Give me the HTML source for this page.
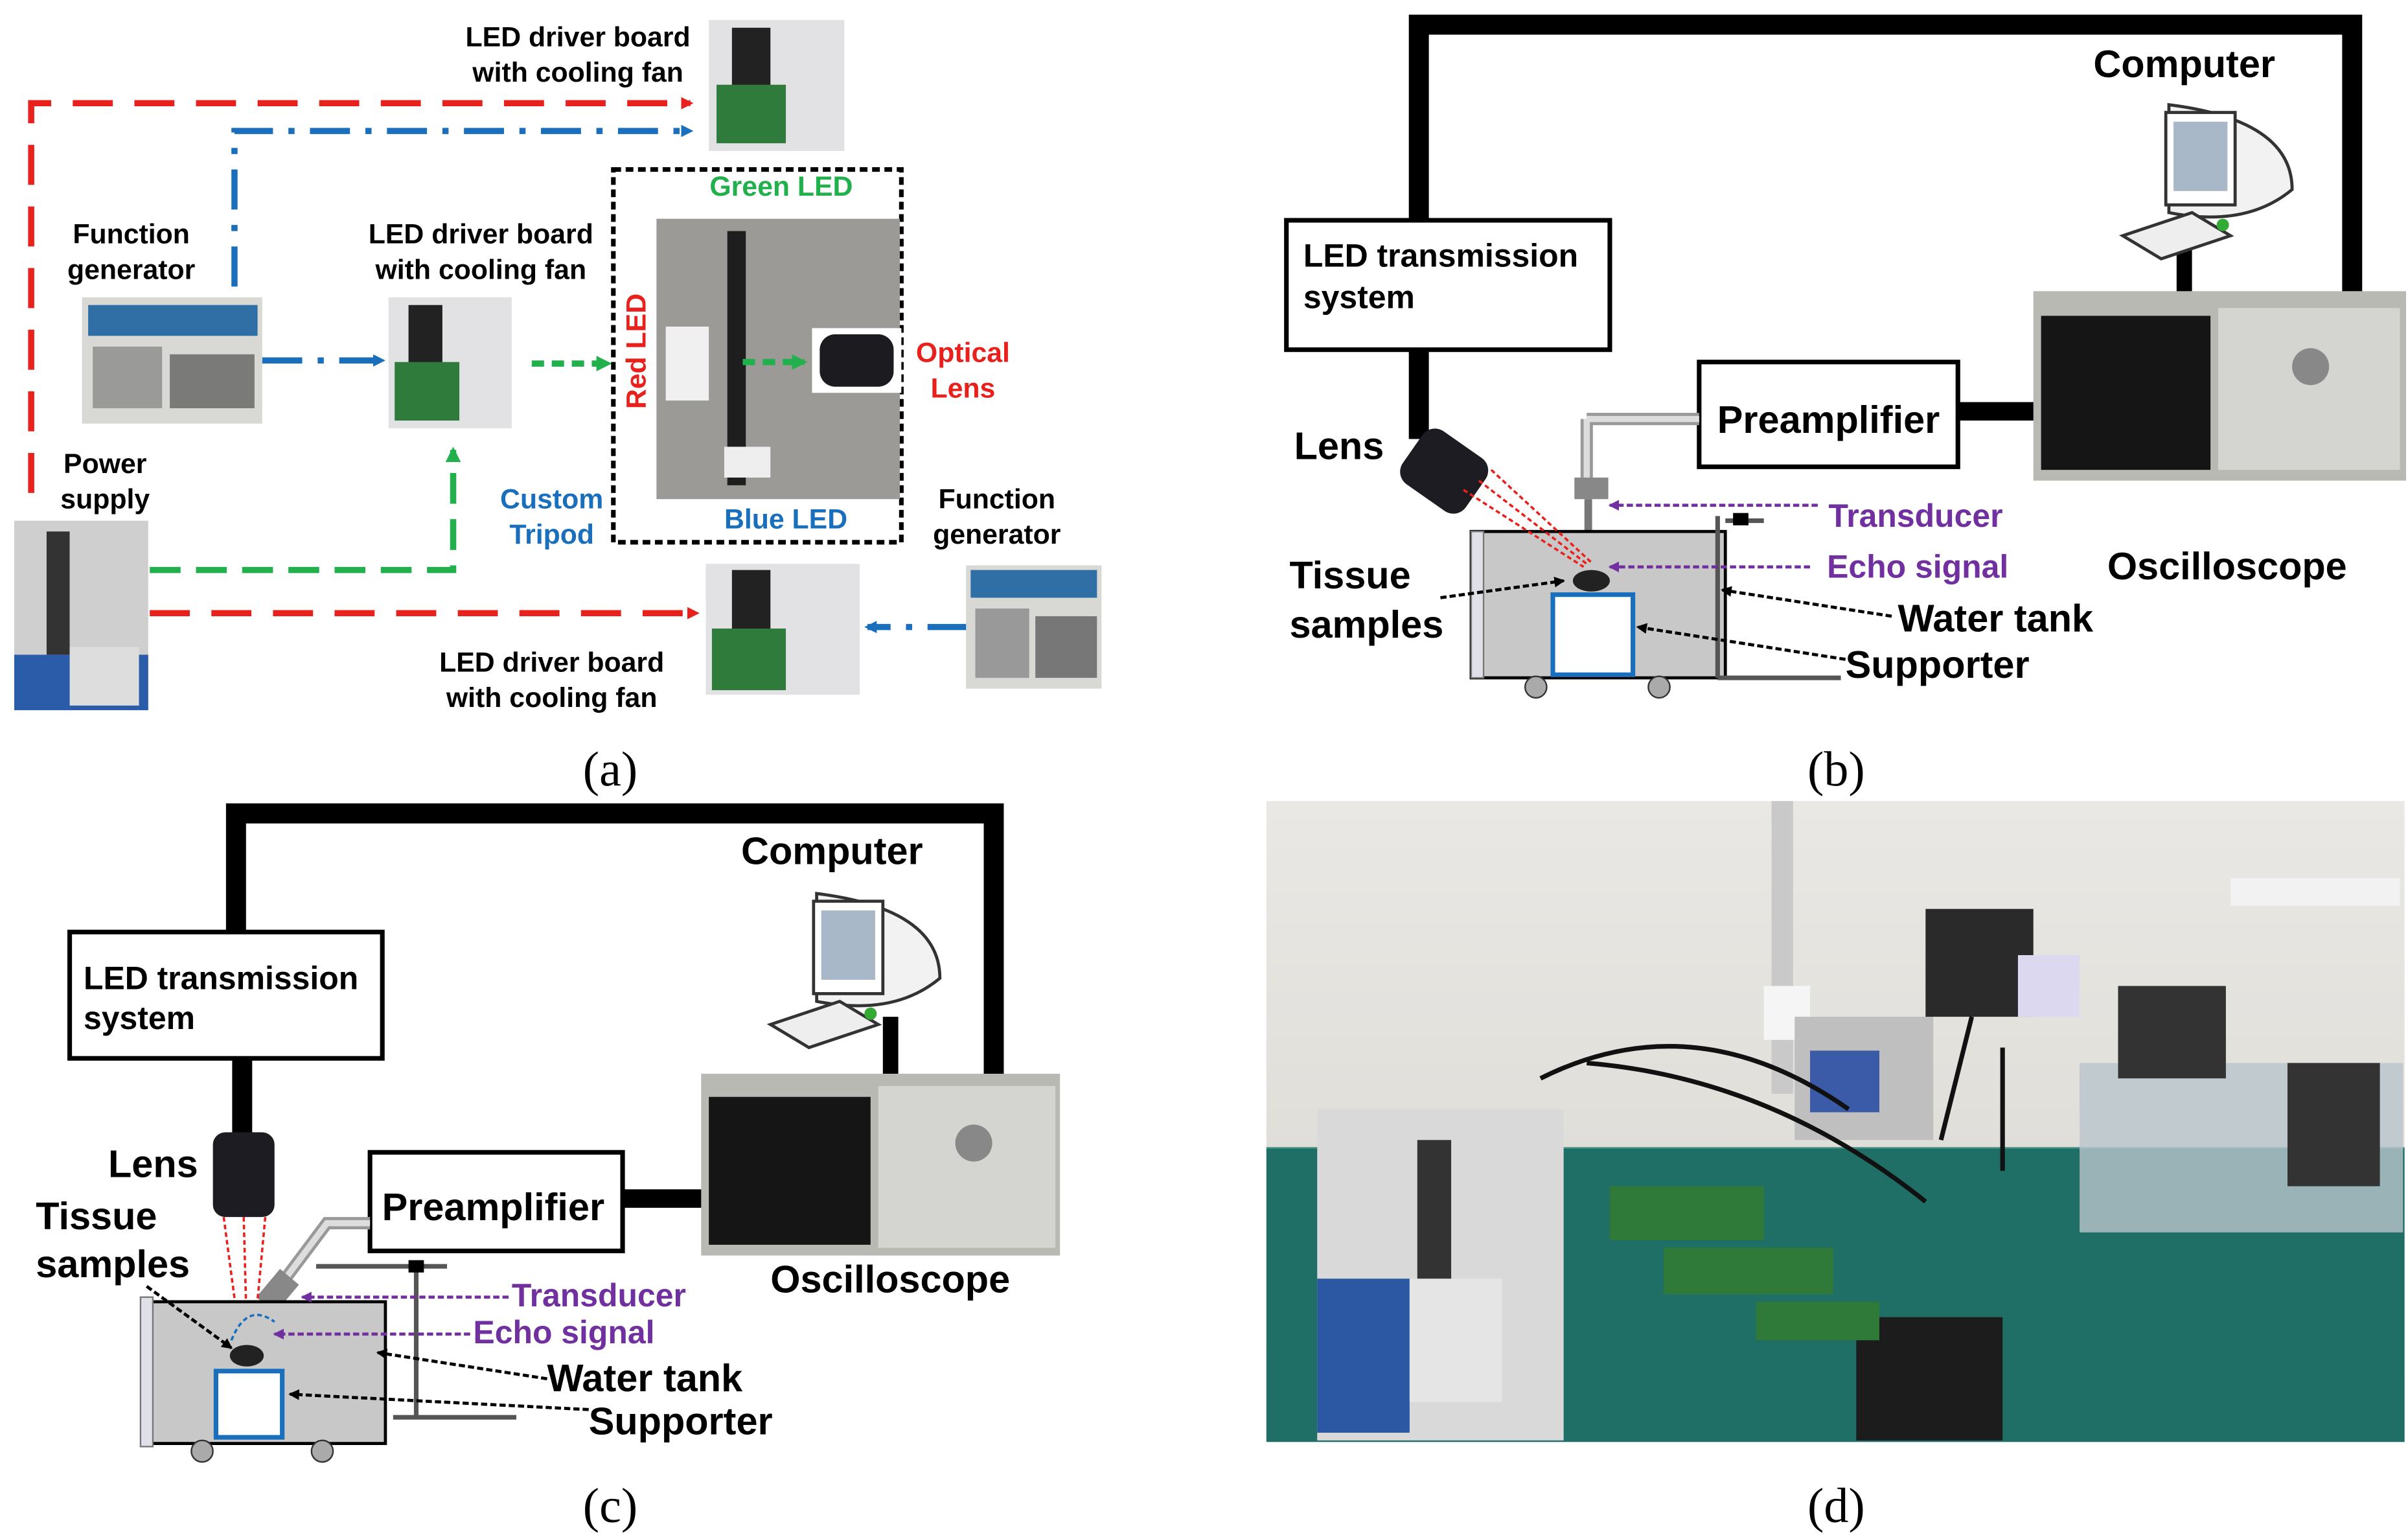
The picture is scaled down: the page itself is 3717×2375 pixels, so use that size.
<!DOCTYPE html>
<html><head><meta charset="utf-8"><style>
html,body{margin:0;padding:0;background:#fff;}
svg{display:block;}
text{font-family:"Liberation Sans",sans-serif;font-weight:bold;}
</style></head><body>
<svg width="3717" height="2375" viewBox="0 0 1563 999" xmlns="http://www.w3.org/2000/svg">
<defs>
<marker id="ar" markerWidth="8" markerHeight="8" refX="6" refY="4" orient="auto" markerUnits="userSpaceOnUse"><path d="M0,0 L8,4 L0,8z" fill="#e8211d"/></marker>
<marker id="ab" markerWidth="8" markerHeight="8" refX="6" refY="4" orient="auto" markerUnits="userSpaceOnUse"><path d="M0,0 L8,4 L0,8z" fill="#1a6fbd"/></marker>
<marker id="ag" markerWidth="10" markerHeight="10" refX="8" refY="5" orient="auto" markerUnits="userSpaceOnUse"><path d="M0,0 L10,5 L0,10z" fill="#21b04b"/></marker>
<marker id="ak" markerWidth="7" markerHeight="7" refX="6" refY="3.5" orient="auto" markerUnits="userSpaceOnUse"><path d="M0,0 L7,3.5 L0,7z" fill="#000"/></marker>
<marker id="ap" markerWidth="7" markerHeight="7" refX="6" refY="3.5" orient="auto" markerUnits="userSpaceOnUse"><path d="M0,0 L7,3.5 L0,7z" fill="#7030a0"/></marker>
<linearGradient id="wall" x1="0" y1="0" x2="0" y2="1"><stop offset="0" stop-color="#e9e8e4"/><stop offset="1" stop-color="#d8d6d0"/></linearGradient>
</defs>

<!-- ===== Panel (a) ===== -->
<g fill="none" stroke-width="4">
<path d="M20,320 V67 H448" stroke="#e8211d" stroke-dasharray="26,14" marker-end="url(#ar)"/>
<path d="M97,398 H452" stroke="#e8211d" stroke-dasharray="26,14" marker-end="url(#ar)"/>
<path d="M152,186 V85 H448" stroke="#1a6fbd" stroke-dasharray="26,10,4,10" marker-end="url(#ab)"/>
<path d="M170,234 H248" stroke="#1a6fbd" stroke-dasharray="26,10,4,10" marker-end="url(#ab)"/>
<path d="M628,407 H563" stroke="#1a6fbd" stroke-dasharray="26,10,4,10" marker-end="url(#ab)"/>
<path d="M97,370 H294 V292" stroke="#21b04b" stroke-dasharray="20,10" marker-end="url(#ag)"/>
<path d="M345,236 H395" stroke="#21b04b" stroke-dasharray="8,5" marker-end="url(#ag)"/>
</g>
<rect x="398" y="110" width="187" height="242" fill="none" stroke="#000" stroke-width="3" stroke-dasharray="5,3"/>
<!-- photos -->
<g>
<rect x="460" y="13" width="88" height="85" fill="#e2e2e4"/><rect x="475" y="18" width="25" height="40" fill="#222"/><rect x="465" y="55" width="45" height="38" fill="#2e7b3c"/>
<rect x="53" y="193" width="117" height="82" fill="#d8d8d4"/><rect x="57" y="198" width="110" height="20" fill="#2f6fa5"/><rect x="60" y="225" width="45" height="40" fill="#9a9a98"/><rect x="110" y="230" width="55" height="35" fill="#7a7a78"/>
<rect x="252" y="193" width="80" height="85" fill="#e2e2e4"/><rect x="265" y="198" width="22" height="38" fill="#222"/><rect x="256" y="235" width="42" height="38" fill="#2e7b3c"/>
<rect x="426" y="142" width="158" height="182" fill="#9c9a96"/><rect x="472" y="150" width="12" height="165" fill="#1e1e1e"/><rect x="432" y="212" width="28" height="48" fill="#f0f0f0"/><rect x="470" y="290" width="30" height="20" fill="#eee"/>
<rect x="527" y="213" width="58" height="42" fill="#fff"/><rect x="532" y="217" width="48" height="34" rx="10" fill="#1b1b20"/>
<rect x="9" y="338" width="87" height="123" fill="#cfcfcf"/><rect x="30" y="345" width="15" height="80" fill="#333"/><rect x="9" y="425" width="87" height="36" fill="#2a5caa"/><rect x="45" y="420" width="45" height="38" fill="#ddd"/>
<rect x="458" y="366" width="100" height="85" fill="#e2e2e4"/><rect x="475" y="370" width="25" height="40" fill="#222"/><rect x="462" y="408" width="48" height="40" fill="#2e7b3c"/>
<rect x="627" y="367" width="88" height="80" fill="#d8d8d4"/><rect x="630" y="370" width="82" height="18" fill="#2f6fa5"/><rect x="633" y="395" width="35" height="45" fill="#999"/><rect x="672" y="400" width="40" height="40" fill="#777"/>
</g>
<path d="M482,235 H522" stroke="#21b04b" stroke-width="4" stroke-dasharray="8,5" fill="none" marker-end="url(#ag)"/>
<g font-size="18" fill="#000">
<text x="375" y="30" text-anchor="middle">LED driver board</text><text x="375" y="53" text-anchor="middle">with cooling fan</text>
<text x="85" y="158" text-anchor="middle">Function</text><text x="85" y="181" text-anchor="middle">generator</text>
<text x="312" y="158" text-anchor="middle">LED driver board</text><text x="312" y="181" text-anchor="middle">with cooling fan</text>
<text x="68" y="307" text-anchor="middle">Power</text><text x="68" y="330" text-anchor="middle">supply</text>
<text x="358" y="436" text-anchor="middle">LED driver board</text><text x="358" y="459" text-anchor="middle">with cooling fan</text>
<text x="647" y="330" text-anchor="middle">Function</text><text x="647" y="353" text-anchor="middle">generator</text>
</g>
<g font-size="18">
<text x="507" y="127" text-anchor="middle" fill="#21b04b">Green  LED</text>
<text x="510" y="343" text-anchor="middle" fill="#1a6fbd">Blue LED</text>
<text x="358" y="330" text-anchor="middle" fill="#1a6fbd">Custom</text><text x="358" y="353" text-anchor="middle" fill="#1a6fbd">Tripod</text>
<text x="625" y="235" text-anchor="middle" fill="#e8211d">Optical</text><text x="625" y="258" text-anchor="middle" fill="#e8211d">Lens</text>
<text transform="translate(419,228) rotate(-90)" text-anchor="middle" fill="#e8211d">Red LED</text>
</g>

<!-- ===== Panel (b) ===== -->
<path d="M921,143 V16 H1527 V190" fill="none" stroke="#000" stroke-width="13"/>
<path d="M921,228 V285" stroke="#000" stroke-width="13"/>
<path d="M1418,150 V190" stroke="#000" stroke-width="10"/>
<path d="M1271,267 H1322" stroke="#000" stroke-width="12"/>
<!-- computer b -->
<g transform="translate(1378,68)">
<path d="M30,0 Q110,10 110,55 Q80,80 30,70 Z" fill="#f2f2f2" stroke="#333" stroke-width="2"/>
<rect x="28" y="5" width="45" height="60" fill="#fff" stroke="#333" stroke-width="2"/><rect x="33" y="11" width="35" height="45" fill="#a8b8c8"/>
<path d="M0,85 L45,70 L70,85 L25,100 Z" fill="#eee" stroke="#333" stroke-width="2"/>
<circle cx="65" cy="78" r="4" fill="#3a3"/>
</g>
<rect x="1320" y="189" width="242" height="123" fill="#b9b9b4"/><rect x="1325" y="205" width="110" height="100" fill="#151515"/><rect x="1440" y="200" width="118" height="105" fill="#d4d4d0"/><circle cx="1500" cy="238" r="12" fill="#888"/>
<rect x="835" y="143" width="210" height="84" fill="#fff" stroke="#000" stroke-width="3"/>
<text x="846" y="173" font-size="21">LED transmission</text><text x="846" y="200" font-size="21">system</text>
<rect x="1103" y="235" width="168" height="68" fill="#fff" stroke="#000" stroke-width="3"/>
<text x="1187" y="281" font-size="25" text-anchor="middle">Preamplifier</text>
<path d="M1030,272 H1103 M1030,272 V312" stroke="#999" stroke-width="8" fill="none"/>
<path d="M1030,272 H1103 M1030,272 V312" stroke="#ddd" stroke-width="4" fill="none"/>
<rect x="1022" y="310" width="22" height="14" fill="#888"/>
<path d="M1031,324 V350" stroke="#777" stroke-width="5"/>
<rect x="955" y="345" width="165" height="95" fill="#c8c8c8" stroke="#000" stroke-width="2"/>
<rect x="955" y="345" width="8" height="95" fill="#e0e0e8" stroke="#777"/>
<path d="M1115,335 V440 M1115,440 H1195 M1120,338 H1145" stroke="#555" stroke-width="3" fill="none"/>
<rect x="1125" y="333" width="10" height="8" fill="#000"/>
<rect x="1008" y="386" width="52" height="52" fill="#fff" stroke="#1a6fbd" stroke-width="3"/>
<circle cx="997" cy="446" r="7" fill="#aaa" stroke="#333"/><circle cx="1077" cy="446" r="7" fill="#aaa" stroke="#333"/>
<ellipse cx="1033" cy="377" rx="12" ry="7" fill="#222"/>
<g transform="translate(938,305) rotate(35)"><rect x="-25" y="-20" width="50" height="42" rx="10" fill="#1c1c22"/></g>
<path d="M950,318 L1028,368 M960,312 L1030,366 M968,305 L1034,366" stroke="#e8211d" stroke-width="1.5" stroke-dasharray="3,2"/>
<path d="M1180,328 H1045" stroke="#7030a0" stroke-width="2" stroke-dasharray="4,2" marker-end="url(#ap)"/>
<path d="M1175,368 H1045" stroke="#7030a0" stroke-width="2" stroke-dasharray="4,2" marker-end="url(#ap)"/>
<path d="M935,388 L1015,377" stroke="#000" stroke-width="2" stroke-dasharray="4,2" marker-end="url(#ak)"/>
<path d="M1228,400 L1118,383" stroke="#000" stroke-width="2" stroke-dasharray="4,2" marker-end="url(#ak)"/>
<path d="M1198,428 L1063,407" stroke="#000" stroke-width="2" stroke-dasharray="4,2" marker-end="url(#ak)"/>
<g font-size="25">
<text x="1418" y="50" text-anchor="middle">Computer</text>
<text x="840" y="298">Lens</text>
<text x="837" y="382">Tissue</text><text x="837" y="414">samples</text>
<text x="1232" y="410">Water tank</text><text x="1198" y="440">Supporter</text>
<text x="1368" y="376">Oscilloscope</text>
</g>
<text x="1187" y="342" font-size="21" fill="#7030a0">Transducer</text>
<text x="1186" y="375" font-size="21" fill="#7030a0">Echo signal</text>

<!-- ===== Panel (c) ===== -->
<path d="M153,605 V528 H645 V697" fill="none" stroke="#000" stroke-width="13"/>
<path d="M157,687 V740" stroke="#000" stroke-width="13"/>
<path d="M578,660 V697" stroke="#000" stroke-width="10"/>
<path d="M404,778 H456" stroke="#000" stroke-width="12"/>
<g transform="translate(500,580)">
<path d="M30,0 Q110,10 110,55 Q80,80 30,70 Z" fill="#f2f2f2" stroke="#333" stroke-width="2"/>
<rect x="28" y="5" width="45" height="60" fill="#fff" stroke="#333" stroke-width="2"/><rect x="33" y="11" width="35" height="45" fill="#a8b8c8"/>
<path d="M0,85 L45,70 L70,85 L25,100 Z" fill="#eee" stroke="#333" stroke-width="2"/>
<circle cx="65" cy="78" r="4" fill="#3a3"/>
</g>
<rect x="455" y="697" width="233" height="118" fill="#b9b9b4"/><rect x="460" y="712" width="105" height="96" fill="#151515"/><rect x="570" y="705" width="115" height="105" fill="#d4d4d0"/><circle cx="632" cy="742" r="12" fill="#888"/>
<rect x="45" y="605" width="203" height="82" fill="#fff" stroke="#000" stroke-width="3"/>
<text x="54" y="642" font-size="21">LED transmission</text><text x="54" y="668" font-size="21">system</text>
<rect x="240" y="748" width="164" height="64" fill="#fff" stroke="#000" stroke-width="3"/>
<text x="320" y="792" font-size="25" text-anchor="middle">Preamplifier</text>
<path d="M240,794 H212 L185,830" stroke="#999" stroke-width="8" fill="none"/>
<path d="M240,794 H212 L185,830" stroke="#ddd" stroke-width="4" fill="none"/>
<g transform="translate(180,838) rotate(40)"><rect x="-8" y="-12" width="16" height="24" fill="#888"/></g>
<rect x="138" y="735" width="40" height="55" rx="8" fill="#1c1c22"/>
<path d="M145,790 L155,865 M158,790 L160,865 M172,790 L165,865" stroke="#e8211d" stroke-width="1.5" stroke-dasharray="3,2"/>
<rect x="95" y="845" width="155" height="92" fill="#c8c8c8" stroke="#000" stroke-width="2"/>
<rect x="91" y="842" width="8" height="97" fill="#e0e0e8" stroke="#777"/>
<path d="M270,820 V920 M255,920 H335 M205,822 H290" stroke="#555" stroke-width="3" fill="none"/>
<rect x="265" y="818" width="10" height="8" fill="#000"/>
<path d="M150,870 Q160,845 178,858" stroke="#1a6fbd" stroke-width="1.5" fill="none" stroke-dasharray="3,2"/>
<rect x="140" y="890" width="43" height="43" fill="#fff" stroke="#1a6fbd" stroke-width="3"/>
<ellipse cx="160" cy="880" rx="11" ry="7" fill="#222"/>
<circle cx="131" cy="942" r="7" fill="#aaa" stroke="#333"/><circle cx="209" cy="942" r="7" fill="#aaa" stroke="#333"/>
<path d="M330,842 H196" stroke="#7030a0" stroke-width="2" stroke-dasharray="4,2" marker-end="url(#ap)"/>
<path d="M305,866 H178" stroke="#7030a0" stroke-width="2" stroke-dasharray="4,2" marker-end="url(#ap)"/>
<path d="M95,835 L150,875" stroke="#000" stroke-width="2" stroke-dasharray="4,2" marker-end="url(#ak)"/>
<path d="M355,895 L245,878" stroke="#000" stroke-width="2" stroke-dasharray="4,2" marker-end="url(#ak)"/>
<path d="M382,915 L188,905" stroke="#000" stroke-width="2" stroke-dasharray="4,2" marker-end="url(#ak)"/>
<g font-size="25">
<text x="540" y="561" text-anchor="middle">Computer</text>
<text x="70" y="764">Lens</text>
<text x="23" y="798">Tissue</text><text x="23" y="829">samples</text>
<text x="355" y="903">Water tank</text><text x="382" y="931">Supporter</text>
<text x="500" y="839">Oscilloscope</text>
</g>
<text x="332" y="848" font-size="21" fill="#7030a0">Transducer</text>
<text x="307" y="872" font-size="21" fill="#7030a0">Echo signal</text>

<!-- ===== Panel (d) ===== -->
<rect x="822" y="520" width="739" height="416" fill="url(#wall)"/>
<rect x="822" y="745" width="739" height="191" fill="#1f6f66"/>
<path d="M822,745 L1561,745" stroke="#5a9a90" stroke-width="1"/>
<rect x="1150" y="520" width="14" height="190" fill="#c9c9c9"/>
<rect x="1145" y="640" width="30" height="35" fill="#f5f5f5"/>
<rect x="1165" y="660" width="90" height="80" fill="#bfbfbf"/><rect x="1175" y="682" width="45" height="40" fill="#3b5ba8"/>
<rect x="1448" y="570" width="110" height="18" fill="#f2f2f2"/>
<rect x="855" y="720" width="160" height="215" fill="#d9d9d9"/><rect x="855" y="830" width="60" height="100" fill="#2b57a3"/><rect x="915" y="830" width="60" height="80" fill="#e5e5e5"/>
<rect x="920" y="740" width="22" height="90" fill="#333"/>
<rect x="1205" y="855" width="95" height="80" fill="#1c1c1c"/>
<rect x="1350" y="690" width="210" height="110" fill="#b8c4cc" opacity="0.8"/>
<rect x="1375" y="640" width="70" height="60" fill="#333"/><rect x="1485" y="690" width="60" height="80" fill="#333"/>
<rect x="1250" y="590" width="70" height="70" fill="#2a2a2a"/><rect x="1310" y="620" width="40" height="40" fill="#dcd8f0"/>
<rect x="1045" y="770" width="100" height="35" fill="#2f7a38"/><rect x="1080" y="810" width="110" height="30" fill="#2f7a38"/><rect x="1140" y="845" width="80" height="25" fill="#2f7a38"/>
<path d="M1000,700 Q1100,650 1200,720 M1030,690 Q1150,700 1250,780 M1280,660 L1260,740 M1300,680 L1300,760" stroke="#111" stroke-width="3" fill="none"/>

<!-- panel labels -->
<g font-family="Liberation Serif, serif" font-weight="normal" font-size="32" text-anchor="middle">
<text x="396" y="510" style="font-family:'Liberation Serif',serif;font-weight:normal">(a)</text>
<text x="1192" y="510" style="font-family:'Liberation Serif',serif;font-weight:normal">(b)</text>
<text x="396" y="988" style="font-family:'Liberation Serif',serif;font-weight:normal">(c)</text>
<text x="1192" y="988" style="font-family:'Liberation Serif',serif;font-weight:normal">(d)</text>
</g>
</svg>
</body></html>
